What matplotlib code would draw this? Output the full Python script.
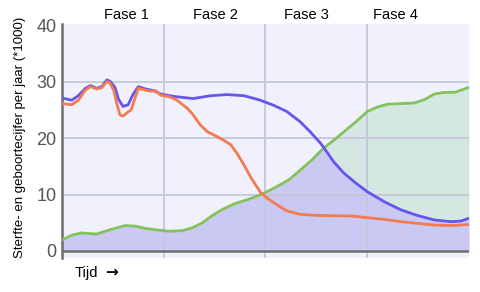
import matplotlib; matplotlib.use("Agg")
import matplotlib.pyplot as plt
import numpy as np

plt.rcParams["font.family"] = ["Liberation Sans", "DejaVu Sans"]

# x in phase units (0..4), y in per-1000 per year
birth_x = [0.0, 0.095, 0.16, 0.23, 0.28, 0.34, 0.39, 0.44, 0.47, 0.52, 0.555, 0.60, 0.65, 0.70,
           0.75, 0.82, 0.90, 0.97, 1.06, 1.13, 1.29, 1.46, 1.62, 1.79, 1.95, 2.08, 2.21, 2.34,
           2.44, 2.54, 2.57, 2.67, 2.77, 2.89, 3.0, 3.17, 3.33, 3.49, 3.66, 3.82, 3.92, 4.0]
birth_y = [27.1, 26.7, 27.5, 28.8, 29.3, 28.8, 29.1, 30.3, 30.1, 29.0, 26.9, 25.6, 25.9, 27.8,
           29.1, 28.7, 28.4, 27.8, 27.5, 27.3, 27.0, 27.5, 27.7, 27.5, 26.7, 25.8, 24.7, 22.9,
           21.1, 19.1, 18.4, 15.8, 13.8, 12.0, 10.5, 8.7, 7.3, 6.3, 5.5, 5.2, 5.3, 5.8]
death_x = [0.0, 0.095, 0.16, 0.23, 0.28, 0.34, 0.39, 0.44, 0.47, 0.51, 0.54, 0.57, 0.60, 0.64,
           0.68, 0.72, 0.75, 0.82, 0.87, 0.92, 0.97, 1.06, 1.13, 1.23, 1.29, 1.36, 1.43, 1.51,
           1.59, 1.66, 1.72, 1.79, 1.85, 1.95, 2.02, 2.12, 2.21, 2.34, 2.51, 2.67, 2.84, 3.0,
           3.17, 3.33, 3.49, 3.66, 3.82, 4.0]
death_y = [26.1, 25.9, 26.7, 28.5, 29.1, 28.7, 28.9, 30.0, 29.8, 28.4, 26.0, 24.1, 23.9, 24.5,
           25.0, 27.2, 28.8, 28.5, 28.3, 28.4, 27.6, 27.3, 26.7, 25.3, 24.1, 22.3, 21.1, 20.4,
           19.6, 18.8, 17.3, 15.2, 13.2, 10.4, 9.3, 8.1, 7.1, 6.5, 6.3, 6.25, 6.2, 5.9,
           5.6, 5.2, 4.9, 4.6, 4.5, 4.7]
pop_x = [0.0, 0.095, 0.19, 0.26, 0.34, 0.46, 0.62, 0.72, 0.82, 0.95, 1.05, 1.18, 1.28, 1.38,
         1.47, 1.57, 1.70, 1.84, 1.97, 2.10, 2.23, 2.34, 2.46, 2.57, 2.67, 2.77, 2.89, 3.0,
         3.10, 3.20, 3.33, 3.46, 3.56, 3.66, 3.76, 3.86, 4.0]
pop_y = [1.95, 2.8, 3.2, 3.1, 3.0, 3.7, 4.5, 4.4, 4.0, 3.7, 3.5, 3.6, 4.1, 5.0,
         6.2, 7.3, 8.4, 9.2, 10.1, 11.3, 12.6, 14.3, 16.2, 18.2, 19.6, 21.1, 22.9, 24.7,
         25.5, 26.0, 26.1, 26.2, 26.8, 27.8, 28.1, 28.1, 29.0]
phases = ["Fase 1", "Fase 2", "Fase 3", "Fase 4"]
phase_pos = [0.63, 1.51, 2.40, 3.28]

BG, GRID = "#f1f1fd", "#c6c6da"
BLUE, ORANGE, GREEN = "#6655ee", "#f47a50", "#84c25c"
LAV, MINT = "#c9c9f3", "#d5e7e3"

fig = plt.figure(figsize=(4.81, 2.92), dpi=100)
ax = fig.add_axes([62 / 481, 1 - 258 / 292, 407 / 481, 234 / 292])
ax.set_facecolor(BG)

# fills: lavender under min(birth, pop), mint between birth and pop where pop is higher
gx = np.linspace(0, 4, 800)
gb, gp = np.interp(gx, birth_x, birth_y), np.interp(gx, pop_x, pop_y)
ax.fill_between(gx, 0, np.minimum(gb, gp), color=LAV, lw=0, zorder=1)
ax.fill_between(gx, gb, gp, where=gp > gb, color=MINT, lw=0, zorder=1, interpolate=True)

for v in [1, 2, 3]:
    ax.axvline(v, color=GRID, lw=1.3, zorder=2)
for h in [10, 20, 30]:
    ax.axhline(h, color=GRID, lw=1.3, zorder=2)
ax.axhline(0, color="#6e6e6e", lw=1.8, zorder=3)

kw = dict(lw=2.0, solid_capstyle="round", solid_joinstyle="round", zorder=4)
ax.plot(pop_x, pop_y, color=GREEN, **kw)
ax.plot(birth_x, birth_y, color=BLUE, **kw)
ax.plot(death_x, death_y, color=ORANGE, **kw)

ax.set_xlim(0, 4); ax.set_ylim(-1.24, 40.2)
ax.set_xticks([])
ax.set_yticks([0, 10, 20, 30, 40])
ax.tick_params(axis="y", length=0, pad=4, labelsize=13, labelcolor="#555555")
for s in ["top", "right", "bottom"]:
    ax.spines[s].set_visible(False)
ax.spines["left"].set_color("#6e6e6e"); ax.spines["left"].set_linewidth(1.8)

for name, p in zip(phases, phase_pos):
    ax.text(p, 1.01, name, transform=ax.get_xaxis_transform(), ha="center", va="bottom", fontsize=10.5)
fig.text(20 / 481, 1 - 137 / 292, "Sterfte- en geboortecijfer per jaar (*1000)", rotation=90,
         ha="center", va="center", fontsize=9.5)
fig.text(75 / 481, 1 - 273 / 292, "Tijd", ha="left", va="center", fontsize=10.5)
fig.text(105 / 481, 1 - 272 / 292, "\u2192", ha="left", va="center", fontsize=11,
         fontweight="bold", family="DejaVu Sans")

fig.savefig("out.png", dpi=100)
